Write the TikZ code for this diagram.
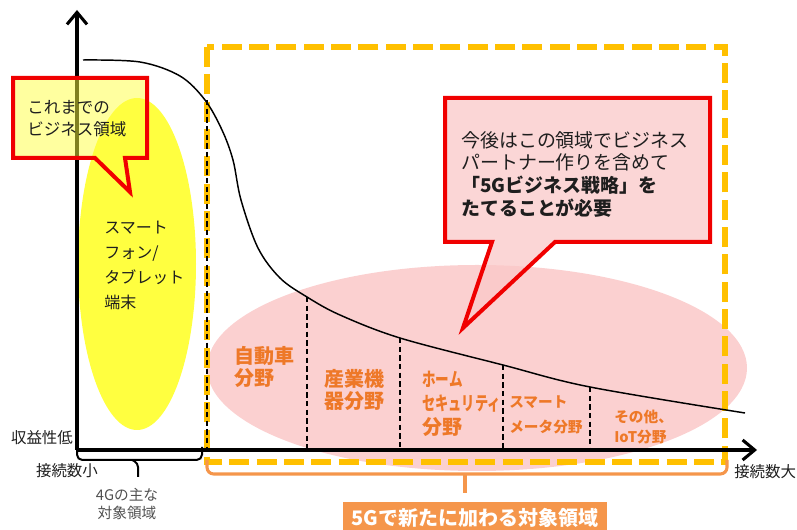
\documentclass[tikz,border=0pt]{standalone}
\usepackage{fontspec}
\usepackage{graphicx}
\setmainfont{Noto Sans CJK JP}
\usetikzlibrary{arrows.meta}
\definecolor{gold}{RGB}{255,192,0}
\definecolor{redline}{RGB}{240,0,0}
\definecolor{yel}{RGB}{255,255,64}
\definecolor{pinkfill}{RGB}{250,200,200}
\definecolor{oranget}{RGB}{238,120,40}
\definecolor{orangeb}{RGB}{245,150,75}
\definecolor{txt}{RGB}{30,30,30}
\definecolor{graytxt}{RGB}{80,80,80}
\tikzset{
  divider/.style={black, line width=1.4pt, dash pattern=on 4pt off 2.5pt},
  callout/.style={draw=redline, line width=3pt, line join=miter},
  seglabel/.style={anchor=west, align=left, inner sep=0pt, text=oranget, font=\bfseries},
  plain/.style={inner sep=0pt, text=txt},
  axis/.style={line width=2.3pt, -{Straight Barb[length=9pt,width=15pt,line width=2.3pt]}}
}
\begin{document}
\begin{tikzpicture}[x=0.75pt,y=-0.75pt]
\useasboundingbox (0,0) rectangle (797,530);
% ellipses
\fill[yel] (137,264) ellipse [x radius=59, y radius=166];
\fill[pinkfill, opacity=0.85] (477,368) ellipse [x radius=270, y radius=103];
% 5G dashed area
\draw[gold, line width=4.8pt, dash pattern=on 15pt off 5.5pt] (207,47) rectangle (725,462);
% curve
\draw[black, line width=1.1pt] plot[smooth, tension=0.55] coordinates {(83,60) (140,62) (180,76) (205,100) (222,130) (233,160) (241,200) (258,248) (280,278) (307,297) (340,315) (400,338) (503,365) (590,387) (745,413)};
% dividers
\coordinate (d1t) at (207,100); \coordinate (d1b) at (207,450);
\coordinate (d2t) at (307,297); \coordinate (d2b) at (307,450);
\coordinate (d3t) at (400,338); \coordinate (d3b) at (400,450);
\coordinate (d4t) at (503,365); \coordinate (d4b) at (503,450);
\coordinate (d5t) at (590,387); \coordinate (d5b) at (590,450);
\draw[divider] (d1t) -- (d1b);
\draw[divider] (d2t) -- (d2b);
\draw[divider] (d3t) -- (d3b);
\draw[divider] (d4t) -- (d4b);
\draw[divider] (d5t) -- (d5b);
% axes
\coordinate (origin) at (77,450);
\coordinate (ytip) at (77,10);
\coordinate (xtip) at (757,450);
\draw[axis] (origin) -- (ytip);
\draw[axis] ([xshift=-1pt]origin) -- (xtip);
% callout 1
\draw[callout, fill=yel, fill opacity=0.5] (13,78) -- (147,78) -- (147,158) -- (125,158) -- (130,192) -- (95,158) -- (13,158) -- cycle;
\node[plain, anchor=west, align=left, font=\fontsize{12.4}{16.5}\selectfont] (c1) at (27,119) {これまでの\\ビジネス領域};
% callout 2
\draw[callout, fill=pinkfill, fill opacity=0.75] (445,98) -- (710,98) -- (710,242) -- (555,242) -- (463,328) -- (492,242) -- (445,242) -- cycle;
\node[plain, anchor=west, align=left, font=\fontsize{14.2}{17}\selectfont] (c2) at (461,174) {今後はこの領域でビジネス\\パートナー作りを含めて\\\textbf{「5Gビジネス戦略」を}\\\textbf{たてることが必要}};
% yellow text
\node[plain, anchor=west, align=left, font=\fontsize{12}{18.75}\selectfont] (sp) at (104,265) {スマート\\フォン/\\タブレット\\端末};
% segment labels
\node[seglabel, font=\bfseries\fontsize{15}{17}\selectfont] (s1) at (234,367) {自動車\\分野};
\node[seglabel, font=\bfseries\fontsize{15}{17}\selectfont] (s2) at (324,390) {産業機\\器分野};
\node[seglabel, font=\bfseries\fontsize{15}{18}\selectfont] (s3) at (422,404) {\scalebox{0.68}[0.95]{ホーム}\\\scalebox{0.66}[0.95]{セキュリティ}\\分野};
\node[seglabel, font=\bfseries\fontsize{11}{18.75}\selectfont] (s4) at (509,415) {スマート\\メータ分野};
\node[seglabel, font=\bfseries\fontsize{11}{15}\selectfont] (s5) at (614,427) {その他、\\IoT分野};
% axis labels
\node[plain, font=\fontsize{11.6}{14}\selectfont] (yl) at (42,438) {収益性低};
\node[plain, font=\fontsize{11.6}{14}\selectfont] (xl) at (67,471) {接続数小};
\node[plain, anchor=west, font=\fontsize{11.6}{14}\selectfont] (xr) at (734,472) {接続数大};
% 4G brace
\coordinate (b1a) at (77,447); \coordinate (b1b) at (202,447); \coordinate (b1m) at (138,477);
\draw[black, line width=1.5pt, rounded corners=4pt] (b1a) -- (77,460) -- (202,460) -- (b1b);
\draw[black, line width=1.5pt, rounded corners=3pt] (132,460) -- (138,463) -- (b1m);
\node[plain, text=graytxt, align=center, font=\fontsize{11}{13.5}\selectfont] (g4) at (127,504) {4Gの主な\\対象領域};
% 5G brace
\coordinate (b2a) at (207,460); \coordinate (b2b) at (727,460); \coordinate (b2m) at (465,493);
\draw[orangeb, line width=2.3pt, rounded corners=5pt] (b2a) -- (207,474) -- (727,474) -- (b2b);
\draw[orangeb, line width=2.3pt] (465,474) -- (b2m);
\node[fill=orangeb, draw=white, line width=1pt, minimum width=266*0.75pt, minimum height=33*0.75pt, inner sep=0pt, text=white, font=\bfseries\fontsize{15}{17}\selectfont] (g5) at (475,518) {5Gで新たに加わる対象領域};
\end{tikzpicture}
\end{document}
